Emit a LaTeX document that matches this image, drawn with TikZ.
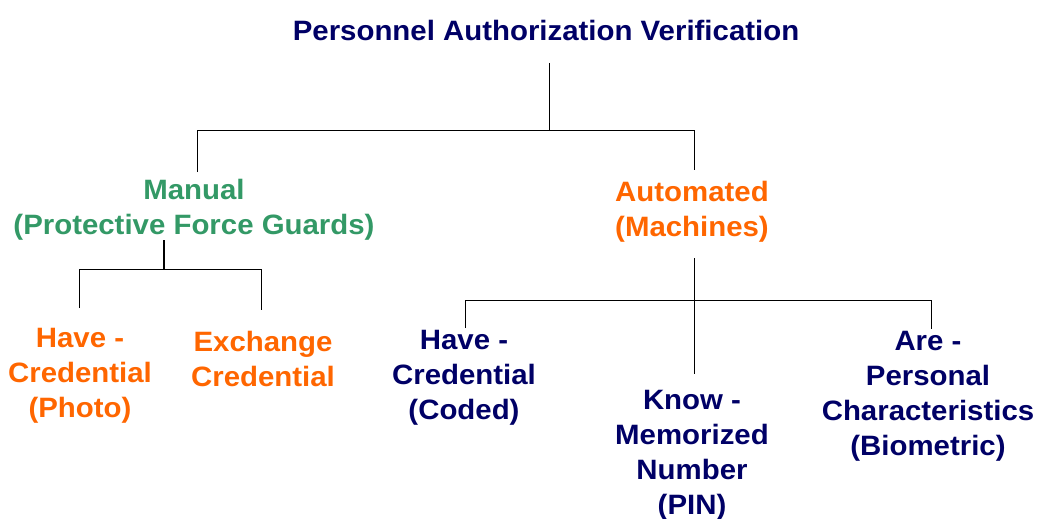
\documentclass[tikz,border=0pt]{standalone}
\usepackage{fontspec}
\setmainfont{Liberation Sans}[FakeStretch=1.05]
\definecolor{navy}{RGB}{0,0,102}
\definecolor{grn}{RGB}{51,153,102}
\definecolor{org}{RGB}{255,102,0}
\tikzset{
  lbl/.style={anchor=north,inner sep=0pt,align=center,font=\fontsize{28}{35}\selectfont\bfseries},
  conn/.style={draw=black,line width=1pt}
}
\begin{document}
\begin{tikzpicture}[x=1pt,y=-1pt]
\useasboundingbox (0,0) rectangle (1044,519);
\node[lbl,text=navy] (title) at (546,20) {Personnel Authorization Verification};
\node[lbl,text=grn] (manual) at (194,179) {Manual\\(Protective Force Guards)};
\node[lbl,text=org] (auto) at (692,181) {Automated\\(Machines)};
\node[lbl,text=org] (photo) at (80,328) {Have -\\Credential\\(Photo)};
\node[lbl,text=org] (exch) at (263,331) {Exchange\\Credential};
\node[lbl,text=navy] (coded) at (464,330) {Have -\\Credential\\(Coded)};
\node[lbl,text=navy] (know) at (692,390) {Know -\\Memorized\\Number\\(PIN)};
\node[lbl,text=navy] (bio) at (928,331) {Are -\\Personal\\Characteristics\\(Biometric)};
\coordinate (t1) at (549,63);
\coordinate (m1) at (197,172);
\coordinate (a1) at (694,170);
\coordinate (m2) at (164,240);
\coordinate (p1) at (79,308);
\coordinate (e1) at (261,310);
\coordinate (a2) at (694,258);
\coordinate (c1) at (465,328);
\coordinate (k1) at (694,374);
\coordinate (b1) at (931,329);
\draw[conn] (t1) -- (t1 |- 0,130);
\draw[conn] (m1) -- (m1 |- 0,130) -- (a1 |- 0,130) -- (a1);
\draw[conn,line width=1.6pt] (m2) -- (m2 |- 0,269);
\draw[conn] (p1) -- (p1 |- 0,269) -- (e1 |- 0,269) -- (e1);
\draw[conn] (a2) -- (k1);
\draw[conn] (c1) -- (c1 |- 0,300) -- (b1 |- 0,300) -- (b1);
\end{tikzpicture}
\end{document}
